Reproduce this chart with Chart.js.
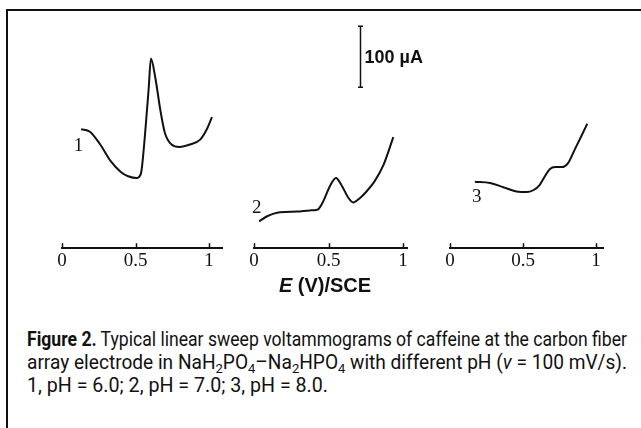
<!DOCTYPE html>
<html><head><meta charset="utf-8">
<script src="https://cdn.jsdelivr.net/npm/chart.js@4"></script>
<style>
html,body{margin:0;padding:0;background:#fff;width:641px;height:428px;overflow:hidden;position:relative;}
#frame{position:absolute;left:6px;top:9px;width:700px;height:500px;border-left:2px solid #111;border-top:2px solid #111;}
canvas{position:absolute;}
#etitle{position:absolute;left:225px;width:200px;top:274px;text-align:center;font:bold 20px "Liberation Sans",Arial,sans-serif;color:#111;}
.cap{position:absolute;left:27px;white-space:nowrap;font-family:Roboto,"Liberation Sans",sans-serif;font-size:20px;line-height:23px;height:23px;color:#111;transform-origin:0 0;}
.cap b{font-weight:700;}
.cap sub{font-size:0.68em;vertical-align:baseline;position:relative;top:0.3em;line-height:0;}
</style></head>
<body>
<div id="frame"></div>
<canvas id="c1"></canvas><canvas id="c2"></canvas><canvas id="c3"></canvas>
<div id="etitle"><i>E</i> (V)/SCE</div>
<div class="cap" id="l1" style="top:328px"><span><b>Figure 2.</b> Typical linear sweep voltammograms of caffeine at the carbon fiber</span></div>
<div class="cap" id="l2" style="top:351px"><span>array electrode in NaH<sub>2</sub>PO<sub>4</sub>–Na<sub>2</sub>HPO<sub>4</sub> with different pH (<i>v</i> = 100 mV/s).</span></div>
<div class="cap" id="l3" style="top:374px"><span>1, pH = 6.0; 2, pH = 7.0; 3, pH = 8.0.</span></div>
<script>
// ---- data (E in V vs SCE, current in µA, arbitrary offset) ----
const tickValues = [0, 0.5, 1];
const tickLabels = ['0', '0.5', '1'];
const curveNames = ['1', '2', '3'];
const potential1 = [0.13,0.19,0.26,0.33,0.40,0.45,0.51,0.52,0.54,0.565,0.59,0.605,0.635,0.67,0.70,0.745,0.80,0.87,0.94,0.985,1.02];
const current1   = [195,191,170,143,125,118,115,116,126,187,263,311,279,225,189,170,166,170,178,195,215];
const potential2 = [0.035,0.085,0.175,0.29,0.375,0.425,0.465,0.51,0.55,0.59,0.635,0.665,0.71,0.755,0.81,0.87,0.935];
const current2   = [44,52,59,60,62,63,77,102,115,102,82,75,82,93,110,137,182];
const potential3 = [0.17,0.275,0.365,0.455,0.525,0.57,0.615,0.65,0.685,0.72,0.765,0.81,0.855,0.90,0.94];
const current3   = [109,107,100,93,92,95,104,118,130,133,133,140,162,184,204];
const scaleBarValue = 100; // µA
const scaleBarLabel = '100 µA';

// ---- layout / style ----
const INK = '#111';
const AXIS_Y = 248;      // page y of the axis lines
const PPY = 0.61;        // px per µA
const PAD_L = 20, PAD_R = 40, PAD_T = 10, H = 290;

const decor = {
  id: 'decor',
  afterDraw(chart, args, o) {
    const {ctx, chartArea, scales: {x, y}} = chart;
    ctx.save();
    ctx.strokeStyle = INK; ctx.fillStyle = INK; ctx.lineWidth = 1.5;
    x.ticks.forEach(t => {
      const px = Math.round(x.getPixelForValue(t.value)) + 0.5;
      ctx.beginPath(); ctx.moveTo(px, chartArea.bottom); ctx.lineTo(px, chartArea.bottom - 5); ctx.stroke();
    });
    if (o.label) {
      ctx.font = '19px "Liberation Serif", serif';
      ctx.textAlign = 'center'; ctx.textBaseline = 'middle';
      ctx.fillText(o.label.text, x.getPixelForValue(o.label.x), y.getPixelForValue(o.label.y));
    }
    if (o.bar) {
      const bx = Math.round(x.getPixelForValue(o.bar.x)) + 0.5;
      const y0 = y.getPixelForValue(o.bar.y0), y1 = y.getPixelForValue(o.bar.y0 + scaleBarValue);
      ctx.beginPath();
      ctx.moveTo(bx, y0); ctx.lineTo(bx, y1);
      ctx.moveTo(bx - 2.5, y0); ctx.lineTo(bx + 2.5, y0);
      ctx.moveTo(bx - 2.5, y1); ctx.lineTo(bx + 2.5, y1);
      ctx.stroke();
      ctx.font = 'bold 18px "Liberation Sans", Arial, sans-serif';
      ctx.textAlign = 'left'; ctx.textBaseline = 'middle';
      ctx.fillText(scaleBarLabel, bx + 4, (y0 + y1) / 2 + 1);
    }
    ctx.restore();
  }
};

function panel(id, xs, ys, cfg) {
  const cv = document.getElementById(id);
  cv.width = PAD_L + cfg.len + PAD_R; cv.height = H;
  const chart = new Chart(cv, {
    type: 'line',
    data: { datasets: [{ data: xs.map((v, i) => ({x: v, y: ys[i]})), borderColor: INK, borderWidth: 2,
      pointRadius: 0, fill: false, cubicInterpolationMode: 'monotone', clip: false }] },
    options: {
      responsive: false, animation: false, events: [],
      layout: { padding: { left: PAD_L, right: PAD_R, top: PAD_T, bottom: 0 } },
      plugins: { legend: {display: false}, tooltip: {enabled: false}, decor: cfg.decor },
      scales: {
        x: { type: 'linear', min: 0, max: 1.05,
          afterBuildTicks: s => { s.ticks = tickValues.map(v => ({value: v})); },
          ticks: { callback: (v) => tickLabels[tickValues.indexOf(v)] ?? '', color: INK, padding: 1, maxRotation: 0,
            font: { family: '"Liberation Serif", serif', size: 19 } },
          grid: { drawOnChartArea: false, drawTicks: false },
          border: { display: true, color: INK, width: 2 } },
        y: { display: false, min: 0, max: 380 }
      }
    },
    plugins: [decor]
  });
  const ca = chart.chartArea;
  cv.style.left = (cfg.left0 - ca.left) + 'px';
  cv.style.top = (AXIS_Y - ca.bottom) + 'px';
  chart.options.scales.x.max = (ca.right - ca.left) / cfg.ppu;
  chart.options.scales.y.max = (ca.bottom - ca.top) / PPY;
  chart.update('none');
  return chart;
}

panel('c1', potential1, current1, { left0: 62, len: 160, ppu: 147,
  decor: { label: { text: curveNames[0], x: 0.112, y: 167 } } });
panel('c2', potential2, current2, { left0: 254, len: 153, ppu: 149,
  decor: { label: { text: curveNames[1], x: 0.018, y: 66 }, bar: { x: 0.711, y0: 264 } } });
panel('c3', potential3, current3, { left0: 450, len: 153, ppu: 146,
  decor: { label: { text: curveNames[2], x: 0.183, y: 84 } } });

// caption: each line fitted to its measured width in the reference layout
const lineWidths = [600, 600, 301];
['l1','l2','l3'].forEach((id, i) => {
  const d = document.getElementById(id);
  const nat = d.querySelector('span').getBoundingClientRect().width;
  d.style.transform = 'scaleX(' + (lineWidths[i] / nat) + ')';
});
</script>
</body></html>
